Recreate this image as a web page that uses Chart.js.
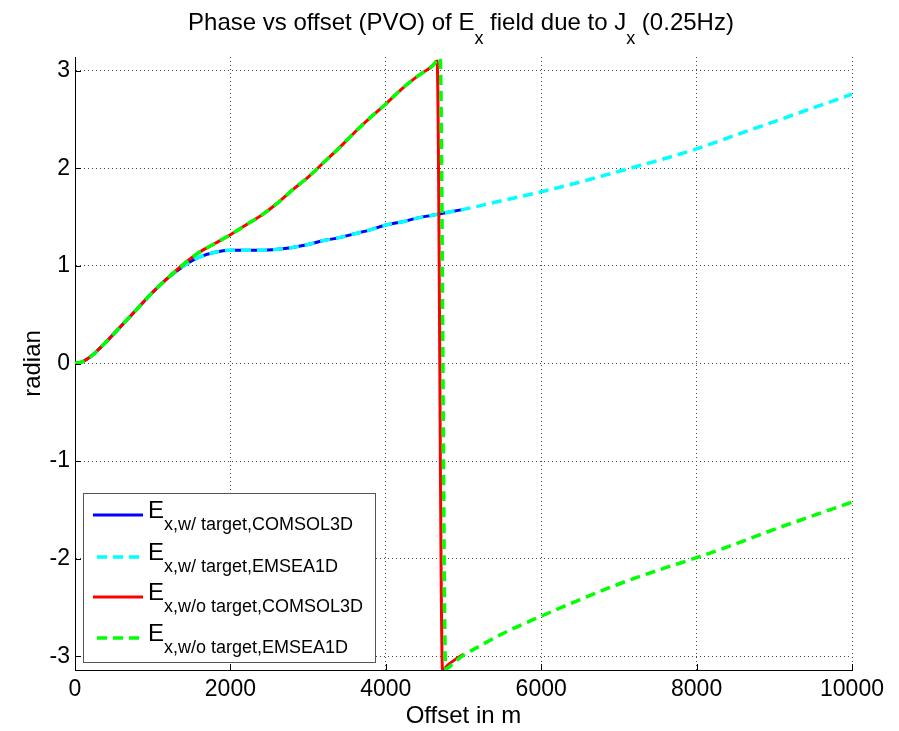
<!DOCTYPE html>
<html>
<head>
<meta charset="utf-8">
<script src="https://cdn.jsdelivr.net/npm/chart.js@4/dist/chart.umd.min.js"></script>
<style>
  html, body { margin: 0; padding: 0; background: #fff; }
  #wrap { width: 899px; height: 731px; position: relative; }
</style>
</head>
<body>
<div id="wrap"><canvas id="pvo" width="899" height="731"></canvas></div>
<script>
// offsets (m) and phase (radian)
const xWithTarget = [0, 100, 200, 400, 600, 800, 1000, 1200, 1400, 1500, 1600, 1800, 2000, 2200, 2400, 2600, 2800, 3000, 3200, 3400, 3600, 3800, 4000, 4200, 4400, 4600, 4800, 5000];
const yWithTarget = [0, 0.02, 0.07, 0.22, 0.39, 0.56, 0.73, 0.88, 1.00, 1.05, 1.09, 1.14, 1.16, 1.16, 1.16, 1.17, 1.19, 1.22, 1.26, 1.29, 1.33, 1.37, 1.42, 1.45, 1.49, 1.52, 1.55, 1.58];

const xWithTarget1D = [5500, 6000, 6500, 7000, 7500, 8000, 8500, 9000, 9500, 10000];
const yWithTarget1D = [1.67, 1.76, 1.86, 1.97, 2.08, 2.20, 2.34, 2.48, 2.62, 2.76];

const xNoTarget = [0, 100, 200, 400, 600, 800, 1000, 1200, 1400, 1600, 1800, 2000, 2200, 2400, 2600, 2800, 3000, 3200, 3400, 3600, 3800, 4000, 4200, 4400, 4600, 4660, 4730, 4800, 4900, 5000];
const yNoTarget = [0, 0.02, 0.07, 0.22, 0.39, 0.56, 0.73, 0.88, 1.02, 1.14, 1.23, 1.32, 1.42, 1.52, 1.64, 1.78, 1.91, 2.06, 2.21, 2.37, 2.52, 2.66, 2.81, 2.94, 3.05, 3.10, -3.14, -3.09, -3.03, -2.98];

const xNoTarget1D = [0, 100, 200, 400, 600, 800, 1000, 1200, 1400, 1600, 1800, 2000, 2200, 2400, 2600, 2800, 3000, 3200, 3400, 3600, 3800, 4000, 4200, 4400, 4600, 4700, 4770, 4900, 5000, 5200, 5500, 6000, 6500, 7000, 7500, 8000, 8500, 9000, 9500, 10000];
const yNoTarget1D = [0, 0.02, 0.07, 0.22, 0.39, 0.56, 0.73, 0.88, 1.02, 1.14, 1.23, 1.32, 1.42, 1.52, 1.64, 1.78, 1.91, 2.06, 2.21, 2.37, 2.52, 2.66, 2.81, 2.94, 3.05, 3.13, -3.13, -3.05, -2.99, -2.90, -2.77, -2.59, -2.42, -2.26, -2.12, -1.99, -1.85, -1.70, -1.56, -1.42];

const xTicks = [0, 2000, 4000, 6000, 8000, 10000];
const yTicks = [-3, -2, -1, 0, 1, 2, 3];

const legendSubs = ["x,w/ target,COMSOL3D", "x,w/ target,EMSEA1D", "x,w/o target,COMSOL3D", "x,w/o target,EMSEA1D"];

const FONT = "'Liberation Sans', Arial, sans-serif";

function pts(xs, ys) {
  return xs.map((x, i) => ({ x: x, y: ys[i] }));
}

// cyan curve = 1D with-target: same as 3D up to 5000 m, then continues
const cyanX = xWithTarget.concat(xWithTarget1D);
const cyanY = yWithTarget.concat(yWithTarget1D);

const styles = [
  { color: "#0000ff", dash: [], width: 3 },
  { color: "#00ffff", dash: [10, 6], width: 3.5 },
  { color: "#ff0000", dash: [], width: 3 },
  { color: "#00ff00", dash: [10, 6], width: 3.5 },
];

// title with subscripts, legend box and inward tick marks
const matlabBits = {
  id: "matlabBits",
  afterDraw(chart) {
    const c = chart.ctx;
    const xs = chart.scales.x, ys = chart.scales.y;
    const area = chart.chartArea;

    // inward ticks
    c.save();
    c.strokeStyle = "#000";
    c.lineWidth = 1;
    c.beginPath();
    xTicks.forEach(v => {
      const px = Math.round(xs.getPixelForValue(v)) + 0.5;
      c.moveTo(px, area.bottom);
      c.lineTo(px, area.bottom - 6);
    });
    yTicks.forEach(v => {
      const py = Math.round(ys.getPixelForValue(v)) + 0.5;
      c.moveTo(area.left, py);
      c.lineTo(area.left + 6, py);
    });
    c.stroke();
    c.restore();

    // title
    const parts = [
      { t: "Phase vs offset (PVO) of E", sub: false },
      { t: "x", sub: true },
      { t: " field due to J", sub: false },
      { t: "x", sub: true },
      { t: " (0.25Hz)", sub: false },
    ];
    const bigF = "24px " + FONT, subF = "18px " + FONT;
    c.save();
    c.fillStyle = "#000";
    c.textBaseline = "alphabetic";
    let total = 0;
    parts.forEach(p => { c.font = p.sub ? subF : bigF; total += c.measureText(p.t).width; });
    let x = 461 - total / 2;
    parts.forEach(p => {
      c.font = p.sub ? subF : bigF;
      c.fillText(p.t, x, p.sub ? 44 : 30);
      x += c.measureText(p.t).width;
    });
    c.restore();

    // legend
    c.save();
    c.fillStyle = "#fff";
    c.fillRect(83, 493, 292, 169);
    c.strokeStyle = "#555";
    c.lineWidth = 1;
    c.strokeRect(83.5, 493.5, 292, 169);
    const rows = [515, 557, 597, 638];
    rows.forEach((ly, i) => {
      const s = styles[i];
      c.strokeStyle = s.color;
      c.lineWidth = s.width;
      c.setLineDash(s.dash);
      c.beginPath();
      c.moveTo(s.dash.length ? 97 : 93, ly);
      c.lineTo(143, ly);
      c.stroke();
      c.setLineDash([]);
      c.fillStyle = "#000";
      c.font = "24px " + FONT;
      c.fillText("E", 148, ly + 3);
      c.font = "18px " + FONT;
      c.fillText(legendSubs[i], 164, ly + 15);
    });
    c.restore();
  }
};

const ctx = document.getElementById("pvo");
const chart = new Chart(ctx, {
  type: "line",
  data: {
    datasets: [
      { label: "Ex,w/ target,COMSOL3D", data: pts(xWithTarget, yWithTarget), order: 3 },
      { label: "Ex,w/ target,EMSEA1D", data: pts(cyanX, cyanY), order: 2 },
      { label: "Ex,w/o target,COMSOL3D", data: pts(xNoTarget, yNoTarget), order: 1 },
      { label: "Ex,w/o target,EMSEA1D", data: pts(xNoTarget1D, yNoTarget1D), order: 0 },
    ].map((d, i) => Object.assign(d, {
      borderColor: styles[i].color,
      borderWidth: styles[i].width,
      borderDash: styles[i].dash,
      pointRadius: 0,
      fill: false,
      cubicInterpolationMode: "monotone",
    })),
  },
  options: {
    responsive: false,
    animation: false,
    layout: { padding: { top: 57, right: 47, left: 0, bottom: 0 } },
    plugins: {
      legend: { display: false },
      title: { display: false },
      tooltip: { enabled: false },
    },
    scales: {
      x: {
        type: "linear",
        min: 0,
        max: 10000,
        afterBuildTicks: s => { s.ticks = xTicks.map(v => ({ value: v })); },
        afterFit: s => { s.height = 61; },
        ticks: { color: "#000", font: { family: FONT, size: 23 }, padding: 6, maxRotation: 0, callback: v => String(v) },
        grid: { color: "#444", lineWidth: 1, drawTicks: false },
        border: { display: true, color: "#000", width: 1, dash: [1, 3] },
        title: { display: true, text: "Offset in m", color: "#000", font: { family: FONT, size: 24 }, padding: { top: 0, bottom: 0 } },
      },
      y: {
        type: "linear",
        min: -Math.PI,
        max: Math.PI,
        afterBuildTicks: s => { s.ticks = yTicks.map(v => ({ value: v })); },
        afterFit: s => { s.width = 75; },
        ticks: { color: "#000", font: { family: FONT, size: 23 }, padding: 5 },
        grid: { color: "#444", lineWidth: 1, drawTicks: false },
        border: { display: true, color: "#000", width: 1, dash: [1, 3] },
        title: { display: true, text: "radian", color: "#000", font: { family: FONT, size: 24 }, padding: { top: 19, bottom: 0 } },
      },
    },
  },
  plugins: [matlabBits],
});
</script>
</body>
</html>
